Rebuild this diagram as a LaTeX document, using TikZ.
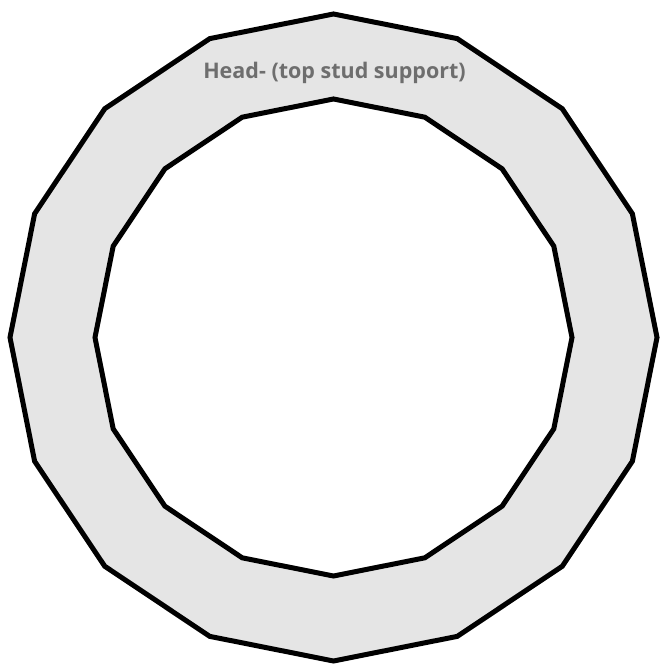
\documentclass[tikz,border=0pt]{standalone}
\usepackage{fontspec}
\setsansfont{Open Sans}
\usetikzlibrary{calc}
\definecolor{ringfill}{RGB}{229, 229, 229}
\definecolor{labelgray}{RGB}{110, 110, 110}

\begin{document}
\begin{tikzpicture}[x=1pt, y=1pt]
        \useasboundingbox (0,0) rectangle (660,667);
        \coordinate (c) at (333.5,329.5);
        % outer and inner 16-gon, filled between them
        \fill[ringfill, even odd rule]
          ($(c)+(90:323.5)$) \foreach \k in {1,...,15}{ -- ($(c)+(90+\k*22.5:323.5)$) } -- cycle
          ($(c)+(90:238.5)$) \foreach \k in {1,...,15}{ -- ($(c)+(90+\k*22.5:238.5)$) } -- cycle;
        \draw[line width=5pt, line join=miter]
          ($(c)+(90:323.5)$) \foreach \k in {1,...,15}{ -- ($(c)+(90+\k*22.5:323.5)$) } -- cycle;
        \draw[line width=5pt, line join=miter]
          ($(c)+(90:238.5)$) \foreach \k in {1,...,15}{ -- ($(c)+(90+\k*22.5:238.5)$) } -- cycle;
        \node[font=\sffamily\bfseries\fontsize{21.5}{24}\selectfont, text=labelgray] (head) at (334.5,594) {Head- (top stud support)};
      \end{tikzpicture}
\end{document}
